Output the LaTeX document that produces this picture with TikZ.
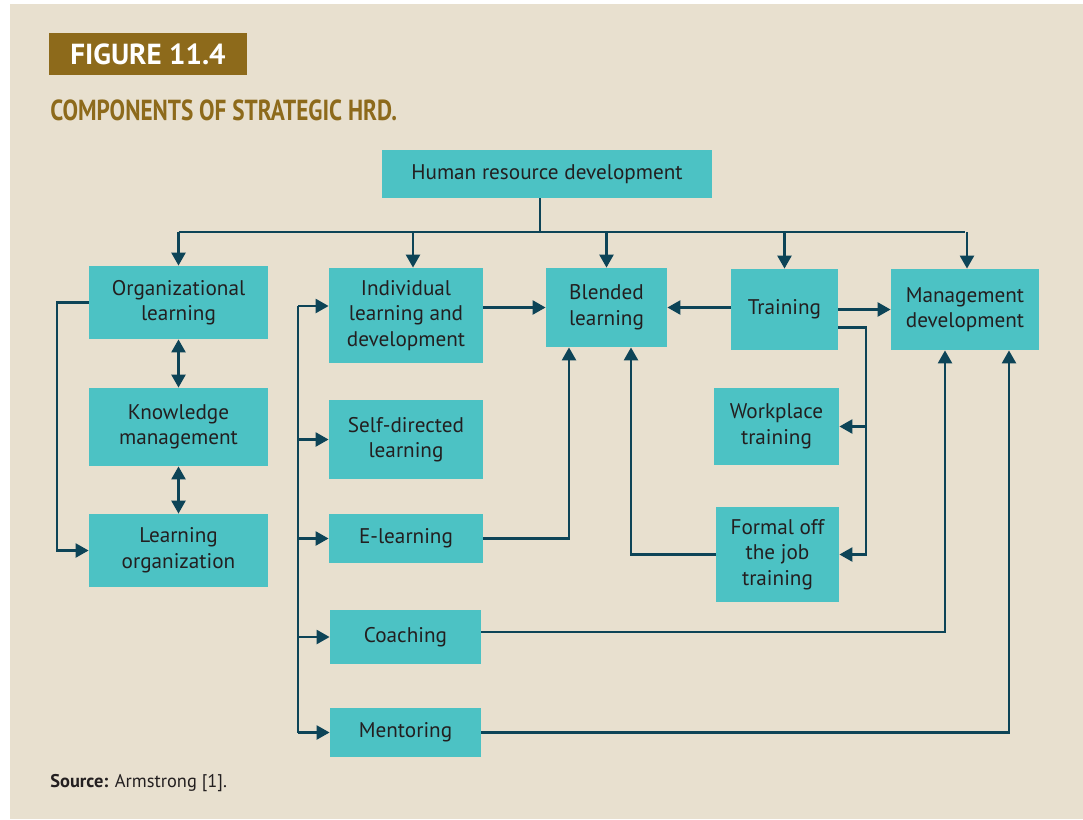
\documentclass[tikz,border=0pt]{standalone}
\usepackage{fontspec}
\setmainfont{PT Sans}
\newfontfamily\condfont[FakeStretch=0.8]{PT Sans}
\usetikzlibrary{arrows.meta}

\definecolor{panel}{HTML}{E8E0CF}
\definecolor{boxteal}{HTML}{4CC2C4}
\definecolor{wire}{HTML}{0D4457}
\definecolor{gold}{HTML}{8D6A1B}
\definecolor{ink}{HTML}{231F20}

\tikzset{
  comp/.style={fill=boxteal, text=ink, align=center, inner sep=0pt,
    font=\fontsize{10.6}{12.8}\selectfont},
  wireline/.style={draw=wire, line width=1.2pt},
  link/.style={wireline, -{Triangle[length=6.5pt,width=7pt]}},
  twoway/.style={wireline, {Triangle[length=6.5pt,width=7pt]}-{Triangle[length=6.5pt,width=7pt]}},
}

\begin{document}
\begin{tikzpicture}[x=0.5pt,y=-0.5pt]
	\useasboundingbox (0,0) rectangle (1083,820);
	\fill[white] (0,0) rectangle (1083,820);
	\fill[panel] (10,4) rectangle (1083,819);

	% heading
	\node[fill=gold, text=white, minimum width=99pt, minimum height=21pt, inner sep=0pt,
	  font=\fontsize{14.5}{16}\selectfont\bfseries] (fig) at (148,54) {FIGURE 11.4};
	\node[anchor=base west, inner sep=0pt, text=gold,
	  font=\fontsize{14.5}{16}\selectfont\condfont\bfseries] (title) at (50,120) {COMPONENTS OF STRATEGIC HRD.};

	% boxes
	\node[comp, minimum width=165pt, minimum height=24pt] (hrd) at (547,174) {Human resource development};
	\node[comp, minimum width=89.5pt, minimum height=36.5pt] (orgl) at (178.5,302.5) {Organizational\\learning};
	\node[comp, minimum width=89.5pt, minimum height=39pt] (know) at (178.5,427) {Knowledge\\management};
	\node[comp, minimum width=89.5pt, minimum height=36.5pt] (lorg) at (178.5,550.5) {Learning\\organization};
	\node[comp, minimum width=77pt, minimum height=47.5pt] (indl) at (406,315.5) {Individual\\learning and\\development};
	\node[comp, minimum width=77pt, minimum height=39.5pt] (self) at (406,439.5) {Self-directed\\learning};
	\node[comp, minimum width=77pt, minimum height=24.5pt] (elrn) at (406,538.5) {E-learning};
	\node[comp, minimum width=75.5pt, minimum height=27pt] (coach) at (405.5,637) {Coaching};
	\node[comp, minimum width=75.5pt, minimum height=24.5pt] (ment) at (405.5,732.5) {Mentoring};
	\node[comp, minimum width=60.5pt, minimum height=39.5pt] (blend) at (606.5,307.5) {Blended\\learning};
	\node[comp, minimum width=53.5pt, minimum height=40.5pt] (train) at (784.5,309.5) {Training};
	\node[comp, minimum width=74pt, minimum height=40.5pt] (mgmt) at (965,309.5) {Management\\development};
	\node[comp, minimum width=62.5pt, minimum height=38.5pt] (work) at (776.5,426.5) {Workplace\\training};
	\node[comp, minimum width=61.5pt, minimum height=47.5pt] (formal) at (777.5,554.5) {Formal off\\the job\\training};

	% rails
	\coordinate (bus) at (540,232);
	\coordinate (lrail) at (57,0);
	\coordinate (mrail) at (298,0);
	\coordinate (trail) at (866,0);

	% top level
	\draw[wireline] (hrd.south -| bus) -- (bus);
	\draw[wireline] (orgl.north |- bus) -- (mgmt.north |- bus);
	\foreach \n/\dx in {orgl/0, indl/3.5, blend/0, train/0, mgmt/1}
		\draw[link] ([xshift=\dx pt]\n.north |- bus) -- ([xshift=\dx pt]\n.north);

	% organizational column
	\draw[twoway] (orgl.south) -- (know.north);
	\draw[twoway] (know.south) -- (lorg.north);
	\draw[link] (orgl.west) -- (orgl.west -| lrail) |- (lorg.west);

	% individual column
	\draw[wireline] ([yshift=4.75pt]indl.west -| mrail) -- (ment.west -| mrail);
	\draw[link] ([yshift=4.75pt]indl.west -| mrail) -- ([yshift=4.75pt]indl.west);
	\foreach \n in {self, elrn, coach, ment}
		\draw[link] (\n.west -| mrail) -- (\n.west);

	% into blended learning and management development
	\draw[link] (blend.west -| indl.east) -- (blend.west);
	\draw[link] (blend.east -| train.west) -- (blend.east);
	\draw[link] (train.east) -- (mgmt.west);
	\draw[link] (elrn.east) -| ([xshift=-18.75pt]blend.south);
	\draw[link] (formal.west) -| ([xshift=12.25pt]blend.south);
	\draw[link] ([yshift=2.5pt]coach.east) -| ([xshift=-10pt]mgmt.south);
	\draw[link] (ment.east) -| ([xshift=22pt]mgmt.south);

	% training branches
	\draw[link] ([yshift=-9pt]train.east) -| (trail |- formal.east) -- (formal.east);
	\draw[link] (work.east -| trail) -- (work.east);

	% source line
	\node[anchor=base west, inner sep=0pt, text=ink, font=\fontsize{9.2}{11}\selectfont] (src) at (50,787)
	  {\textbf{Source:} Armstrong [1].};
\end{tikzpicture}
\end{document}
